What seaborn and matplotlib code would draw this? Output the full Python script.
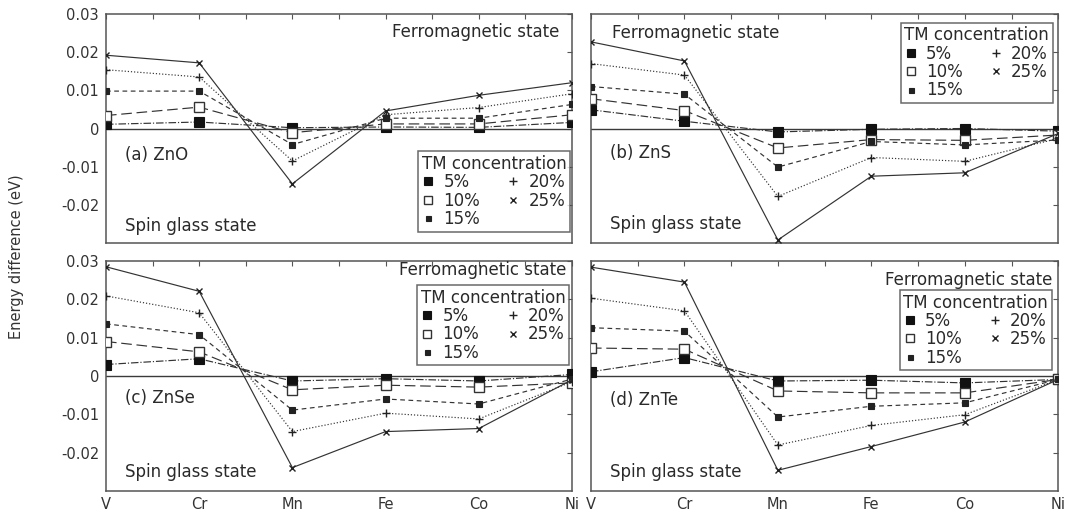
import numpy as np
import pandas as pd
import matplotlib
matplotlib.use("Agg")
import matplotlib.pyplot as plt
from matplotlib.lines import Line2D
import seaborn as sns

# ---------------- data ----------------
categories = ["V", "Cr", "Mn", "Fe", "Co", "Ni"]
concentrations = ["5%", "10%", "15%", "20%", "25%"]

zno_5 = [0.0011, 0.0017, 0.0002, 0.0004, 0.0003, 0.0016]
zno_10 = [0.0034, 0.0056, -0.0011, 0.0012, 0.0012, 0.0036]
zno_15 = [0.0098, 0.0098, -0.0042, 0.0027, 0.0027, 0.0063]
zno_20 = [0.0154, 0.0135, -0.0085, 0.0036, 0.0055, 0.0091]
zno_25 = [0.0192, 0.0172, -0.0145, 0.0046, 0.0087, 0.0120]

zns_5 = [0.0049, 0.0019, -0.0009, -0.0002, 0.0000, -0.0007]
zns_10 = [0.0078, 0.0047, -0.0051, -0.0029, -0.0031, -0.0017]
zns_15 = [0.0110, 0.0090, -0.0101, -0.0034, -0.0043, -0.0030]
zns_20 = [0.0170, 0.0140, -0.0178, -0.0076, -0.0086, -0.0026]
zns_25 = [0.0227, 0.0177, -0.0292, -0.0125, -0.0116, -0.0013]

znse_5 = [0.0030, 0.0045, -0.0013, -0.0007, -0.0013, 0.0004]
znse_10 = [0.0090, 0.0063, -0.0036, -0.0024, -0.0029, -0.0018]
znse_15 = [0.0136, 0.0108, -0.0089, -0.0060, -0.0073, -0.0008]
znse_20 = [0.0209, 0.0165, -0.0145, -0.0097, -0.0112, -0.0015]
znse_25 = [0.0285, 0.0221, -0.0239, -0.0145, -0.0137, -0.0010]

znte_5 = [0.0011, 0.0048, -0.0013, -0.0011, -0.0018, -0.0009]
znte_10 = [0.0073, 0.0070, -0.0039, -0.0044, -0.0044, -0.0009]
znte_15 = [0.0126, 0.0117, -0.0107, -0.0079, -0.0070, -0.0009]
znte_20 = [0.0203, 0.0170, -0.0180, -0.0129, -0.0101, -0.0009]
znte_25 = [0.0284, 0.0245, -0.0246, -0.0184, -0.0120, -0.0009]

panel_labels = ["(a) ZnO", "(b) ZnS", "(c) ZnSe", "(d) ZnTe"]
panel_series = [
    [zno_5, zno_10, zno_15, zno_20, zno_25],
    [zns_5, zns_10, zns_15, zns_20, zns_25],
    [znse_5, znse_10, znse_15, znse_20, znse_25],
    [znte_5, znte_10, znte_15, znte_20, znte_25],
]
ytick_values = [-0.02, -0.01, 0.0, 0.01, 0.02, 0.03]
ytick_labels = ["-0.02", "-0.01", "0", "0.01", "0.02", "0.03"]

# ---------------- style ----------------
sns.set_style("white")
plt.rcParams["font.family"] = ["DejaVu Sans"]

line_col = "#333333"
styles = {
    "5%": dict(ls="-.", marker="s", ms=6.5, mfc="#111111", mec="#111111", mew=0.8),
    "10%": dict(ls=(0, (9, 4)), marker="s", ms=6.5, mfc="white", mec="#333333", mew=1.0),
    "15%": dict(ls=(0, (4, 3)), marker="s", ms=4, mfc="#222222", mec="#222222", mew=0.8),
    "20%": dict(ls=":", marker="+", ms=6, mfc="#222222", mec="#222222", mew=1.0),
    "25%": dict(ls="-", marker="x", ms=5, mfc="#222222", mec="#222222", mew=1.0),
}

fig = plt.figure(figsize=(10.78, 5.13), dpi=100)
rects = [
    [0.0983, 0.5263, 0.4323, 0.4464],
    [0.5482, 0.5263, 0.4335, 0.4464],
    [0.0983, 0.0429, 0.4323, 0.4483],
    [0.5482, 0.0429, 0.4335, 0.4483],
]

# text placements (axes fraction)
ferro_pos = [(0.974, 0.92, "right"), (0.045, 0.917, "left"),
             (0.988, 0.962, "right"), (0.9875, 0.916, "right")]
legend_pos = [("lower right", (0.996, 0.05)), ("upper right", (0.988, 0.962)),
              ("upper right", (0.994, 0.895)), ("upper right", (0.986, 0.874))]
label_y = [0.384, 0.391, 0.403, 0.394]
spin_y = [0.075, 0.082, 0.084, 0.083]

xpos = np.arange(len(categories))

for i, (rect, series) in enumerate(zip(rects, panel_series)):
    ax = fig.add_axes(rect)
    ax.axhline(0, color="#3a3a3a", lw=1.0, zorder=1)
    for conc, vals in zip(concentrations, series):
        df = pd.DataFrame({"x": xpos, "y": vals})
        st = styles[conc]
        sns.lineplot(data=df, x="x", y="y", ax=ax, sort=False, errorbar=None,
                     color=line_col, lw=0.85, linestyle=st["ls"],
                     marker=st["marker"], markersize=st["ms"],
                     markerfacecolor=st["mfc"], markeredgecolor=st["mec"],
                     markeredgewidth=st["mew"], zorder=3)
    ax.set_xlim(xpos[0], xpos[-1])
    ax.set_ylim(-0.03, 0.03)
    ax.set_yticks(ytick_values)
    ax.set_xticks(xpos)
    ax.set_xticks(xpos[:-1] + 0.5, minor=True)
    ax.tick_params(which="both", direction="in", top=True, right=True,
                   length=3.5, width=0.8, color="#555555", labelsize=10.5,
                   labelcolor="#333333", pad=5)
    ax.tick_params(axis="x", pad=4)
    ax.set_xlabel("")
    ax.set_ylabel("")
    if i in (0, 2):
        ax.set_yticklabels(ytick_labels)
    else:
        ax.set_yticklabels([])
    if i in (2, 3):
        ax.set_xticklabels(categories)
    else:
        ax.set_xticklabels([])
    for sp in ax.spines.values():
        sp.set_color("#555555")
        sp.set_linewidth(1.1)

    fx, fy, fha = ferro_pos[i]
    ax.text(fx, fy, "Ferromagnetic state", transform=ax.transAxes, ha=fha,
            va="center", fontsize=12, color="#2a2a2a")
    ax.text(0.04, label_y[i], panel_labels[i], transform=ax.transAxes,
            ha="left", va="center", fontsize=12, color="#2a2a2a")
    ax.text(0.04, spin_y[i], "Spin glass state", transform=ax.transAxes,
            ha="left", va="center", fontsize=12, color="#2a2a2a")

    handles = [Line2D([], [], ls="none", marker=styles[c]["marker"],
                      ms=styles[c]["ms"] * 0.9, mfc=styles[c]["mfc"],
                      mec=styles[c]["mec"], mew=styles[c]["mew"])
               for c in concentrations]
    loc, anchor = legend_pos[i]
    leg = ax.legend(handles, concentrations, loc=loc, bbox_to_anchor=anchor,
                    ncol=2, title="TM concentration", fontsize=12,
                    title_fontsize=12, frameon=True, fancybox=False,
                    handlelength=0.8, handletextpad=0.5, columnspacing=1.6,
                    labelspacing=0.02, borderpad=0.22, borderaxespad=0.0,
                    alignment="left")
    leg.get_frame().set_edgecolor("#444444")
    leg.get_frame().set_linewidth(1.1)
    for t in leg.get_texts():
        t.set_color("#2a2a2a")
    leg.get_title().set_color("#2a2a2a")

fig.text(0.015, 0.5, "Energy difference (eV)", rotation=90, ha="center",
         va="center", fontsize=10.5, color="#333333")

fig.savefig("out.png", dpi=100)
